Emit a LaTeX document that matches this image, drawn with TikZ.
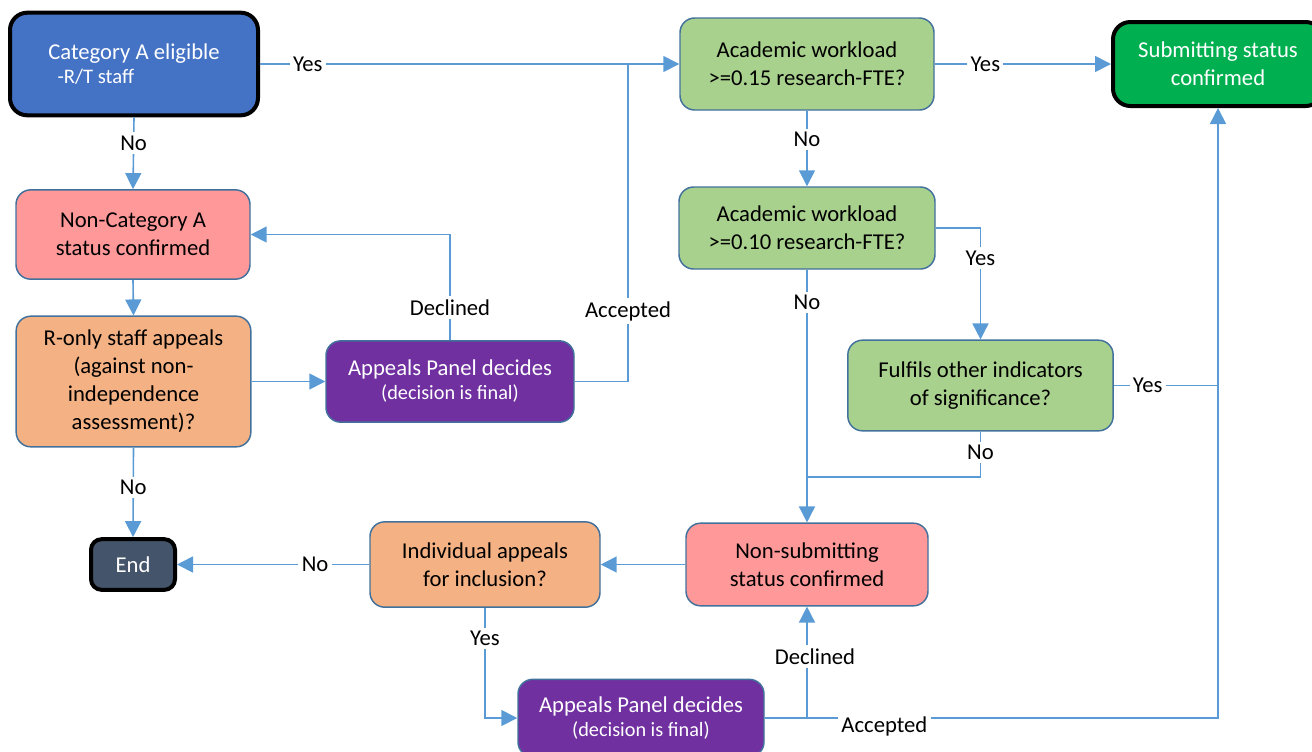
\documentclass[tikz,border=0pt]{standalone}
\usepackage{fontspec}
\setmainfont{Carlito}
\usepackage{tikz}
\usetikzlibrary{arrows.meta}

\definecolor{linkblue}{HTML}{5B9BD5}
\definecolor{edgeblue}{HTML}{41719C}
\definecolor{catblue}{HTML}{4472C4}
\definecolor{salmon}{HTML}{FF9999}
\definecolor{peach}{HTML}{F4B183}
\definecolor{panelpurple}{HTML}{7030A0}
\definecolor{sage}{HTML}{A9D18E}
\definecolor{okgreen}{HTML}{00B050}
\definecolor{slate}{HTML}{44546A}

\begin{document}
\begin{tikzpicture}[x=0.75pt,y=0.75pt,yscale=-1,xscale=1,
    box/.style={draw=edgeblue, line width=1.1pt, rounded corners=11pt, align=center, inner sep=2pt, font=\fontsize{17}{21}\selectfont},
    heavy/.style={draw=black, line width=3pt, rounded corners=13pt},
    link/.style={draw=linkblue, line width=1.2pt},
    arr/.style={-{Triangle[length=12pt,width=12pt]}},
    lbl/.style={fill=white, inner sep=2.5pt, font=\fontsize{17}{21}\selectfont}]
    \useasboundingbox (0,0) rectangle (1312,751);

    %Rounded Rect: start
    \node [box, heavy, fill=catblue, text=white, align=left, minimum width=186pt, minimum height=77pt] (catA) at (134,64) {Category A eligible\\[-3pt]\hspace*{7pt}{\fontsize{15.5}{17}\selectfont -R/T staff}};
    %Rounded Rect
    \node [box, fill=salmon, minimum width=175.5pt, minimum height=67pt] (noncat) at (133,234.5) {Non-Category A\\status confirmed};
    %Rounded Rect
    \node [box, fill=peach, minimum width=176pt, minimum height=98pt] (ronly) at (133.5,381.5) {R-only staff appeals\\(against non-\\independence\\assessment)?};
    %Rounded Rect
    \node [box, fill=panelpurple, text=white, minimum width=186pt, minimum height=61pt] (panelA) at (450,381.5) {Appeals Panel decides\\[-3pt]{\fontsize{15.2}{17}\selectfont(decision is final)}};
    %Rounded Rect: end
    \node [box, heavy, rounded corners=8pt, fill=slate, text=white, minimum width=63pt, minimum height=38pt] (endn) at (133,564.5) {End};
    %Rounded Rect
    \node [box, fill=peach, minimum width=172.5pt, minimum height=64pt] (indiv) at (485,564.5) {Individual appeals\\for inclusion?};
    %Rounded Rect
    \node [box, fill=panelpurple, text=white, minimum width=184.5pt, minimum height=58pt] (panelB) at (641,718) {Appeals Panel decides\\[-3pt]{\fontsize{15.2}{17}\selectfont(decision is final)}};
    %Rounded Rect
    \node [box, fill=sage, minimum width=190.5pt, minimum height=69pt] (acA) at (807,64) {Academic workload\\>=0.15 research-FTE?};
    %Rounded Rect: goal
    \node [box, heavy, fill=okgreen, text=white, minimum width=157.5pt, minimum height=63pt] (submit) at (1218,64) {Submitting status\\confirmed};
    %Rounded Rect
    \node [box, fill=sage, minimum width=192pt, minimum height=61.5pt] (acB) at (807,228) {Academic workload\\>=0.10 research-FTE?};
    %Rounded Rect
    \node [box, fill=sage, minimum width=199pt, minimum height=68pt] (fulfil) at (980.5,385.5) {Fulfils other indicators\\of significance?};
    %Rounded Rect
    \node [box, fill=salmon, minimum width=181.5pt, minimum height=62pt] (nonsub) at (807,564.5) {Non-submitting\\status confirmed};

    % Junctions
    \coordinate (jacc) at (628,64);
    \coordinate (jno) at (807,477);

    % Connectors
    \draw [link, arr] (catA.east) -- node [lbl, pos=0.114] {Yes} (acA.west);
    \draw [link] (panelA.east) -| node [lbl, pos=0.611] {Accepted} (jacc);
    \draw [link, arr] (catA.south) -- node [lbl, pos=0.36] {No} (noncat.north);
    \draw [link, arr] (noncat.south) -- (ronly.north);
    \draw [link, arr] (ronly.east) -- (panelA.west);
    \draw [link, arr] (panelA.north) |- node [lbl, pos=0.155] {Declined} (noncat.east);
    \draw [link, arr] (ronly.south) -- node [lbl, pos=0.446] {No} (endn.north);
    \draw [link, arr] (indiv.west) -- node [lbl, pos=0.282] {No} (endn.east);
    \draw [link, arr] (nonsub.west) -- (indiv.east);
    \draw [link, arr] (indiv.south) |- node [lbl, pos=0.14] {Yes} (panelB.west);
    \draw [link, arr] (panelB.east) -| node [lbl, pos=0.777, xshift=6pt] {Declined} (nonsub.south);
    \draw [link, arr] (panelB.east) -| node [lbl, pos=0.132, yshift=-6pt] {Accepted} (submit.south);
    \draw [link] (fulfil.east) -- node [lbl, pos=0.324] {Yes} (fulfil.east -| submit.south);
    \draw [link, arr] (acA.east) -- node [lbl, pos=0.287] {Yes} (submit.west);
    \draw [link, arr] (acA.south) -- node [lbl, pos=0.377] {No} (acB.north);
    \draw [link, arr] (acB.east) -| node [lbl, pos=0.634] {Yes} (fulfil.north);
    \draw [link, arr] (acB.south) -- node [lbl, pos=0.13] {No} (nonsub.north);
    \draw [link] (fulfil.south) |- node [lbl, pos=0.228] {No} (jno);
\end{tikzpicture}
\end{document}
